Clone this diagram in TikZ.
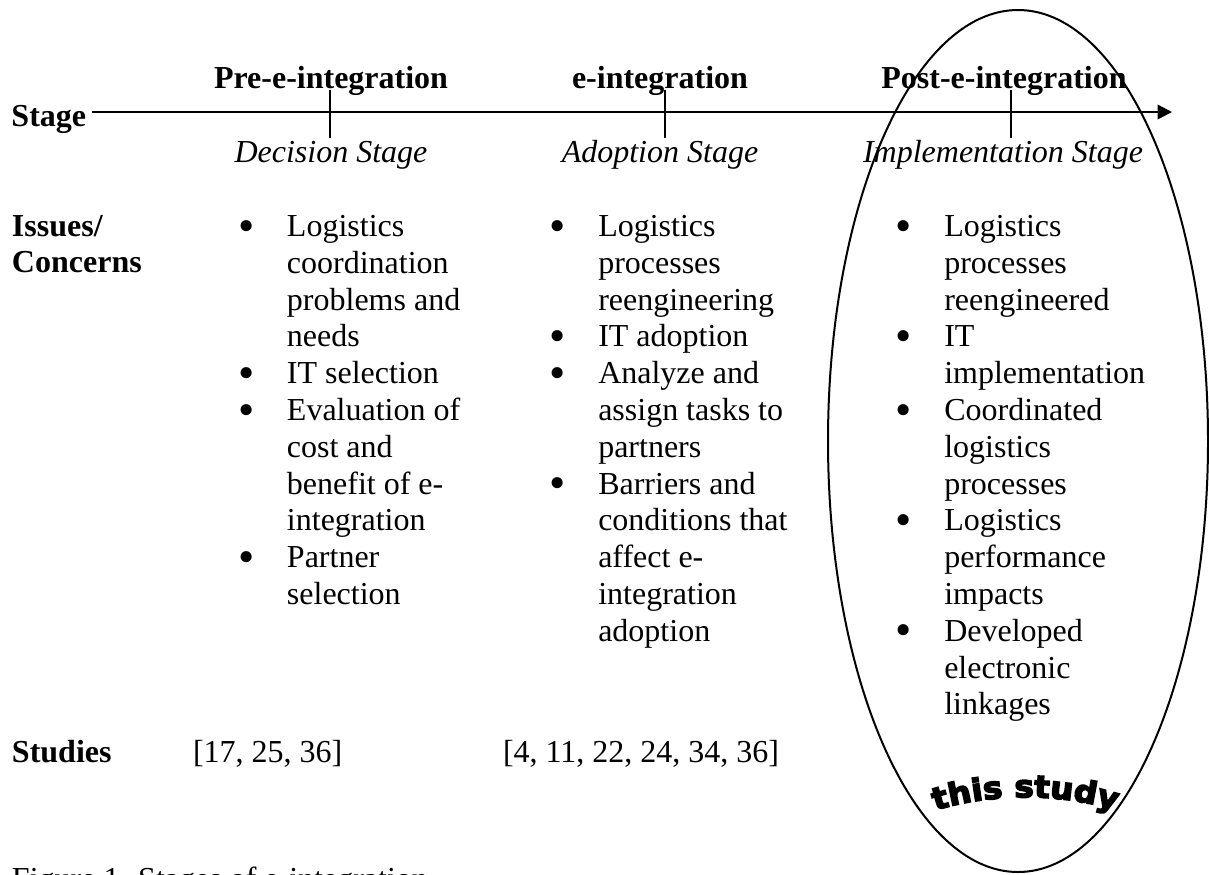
\documentclass[tikz,border=0pt]{standalone}
\usepackage{fontspec}
\usepackage{graphicx}
\setmainfont{Liberation Serif}
\newfontfamily\wordart[FakeStretch=1.06, BoldFeatures={FakeBold=5}, UprightFeatures={FakeBold=5}]{DejaVu Sans}
\usetikzlibrary{arrows.meta,shapes.geometric,decorations.text}
\newcommand\BigDot{\raisebox{-1.7pt}{\scalebox{1.45}{•}}}
\newcommand\Bul[1]{\makebox[17.5pt][l]{\hspace*{-0.8pt}\BigDot}#1}
\newcommand\Cont[1]{\hspace*{17.5pt}#1}
\begin{document}
\begin{tikzpicture}[x=0.375pt,y=-0.375pt,
  every node/.style={inner sep=0pt, outer sep=0pt},
  txt/.style={font=\fontsize{12}{13.8}\selectfont, anchor=base west},
  hdr/.style={font=\fontsize{12}{13.8}\selectfont\bfseries},
  stg/.style={font=\fontsize{12}{13.8}\selectfont\itshape, anchor=base},
  lst/.style={font=\fontsize{12}{13.8}\selectfont, anchor=base west},
  axisline/.style={line width=0.9pt, -{Triangle[length=5.4pt,width=5.4pt]}},
  tickline/.style={line width=0.7pt},
  ring/.style={draw, ellipse, line width=0.75pt, minimum width=142.5pt, minimum height=323.25pt}]
\useasboundingbox (0,0) rectangle (1209,874);
\clip (0,0) rectangle (1209,874);

% axis
\node[hdr, anchor=base west] (stage) at (11.5,126.5) {Stage};
\coordinate (axstart) at (92,112);
\coordinate (axend) at (1172,112);
\draw[axisline] (axstart) -- (axend);

% stage headers
\node[hdr, anchor=base] (pre)  at (331,88)  {Pre-e-integration};
\node[hdr, anchor=base] (ein)  at (660,88)  {e-integration};
\node[hdr, anchor=base] (post) at (1004,88) {Post-e-integration};

\node[stg] (dec) at (331,162)  {Decision Stage};
\node[stg] (ado) at (660,162)  {Adoption Stage};
\node[stg] (imp) at (1003,162) {Implementation Stage};

% ticks
\coordinate (t1a) at (330,90);  \coordinate (t1b) at (330,138);
\coordinate (t2a) at (665,90);  \coordinate (t2b) at (665,138);
\coordinate (t3a) at (1011,90); \coordinate (t3b) at (1011,138);
\draw[tickline] (t1a) -- (t1b);
\draw[tickline] (t2a) -- (t2b);
\draw[tickline] (t3a) -- (t3b);

% row labels
\node[hdr, anchor=base west] (issues) at (12,236) {\begin{tabular}[t]{@{}l@{}}Issues/\\Concerns\end{tabular}};
\node[hdr, anchor=base west] (studies) at (12,762) {Studies};

% lists
\node[lst] (list1) at (240.3,236.5) {\begin{tabular}[t]{@{}l@{}}
\Bul{Logistics}\\ \Cont{coordination}\\ \Cont{problems and}\\ \Cont{needs}\\
\Bul{IT selection}\\
\Bul{Evaluation of}\\ \Cont{cost and}\\ \Cont{benefit of e-}\\ \Cont{integration}\\
\Bul{Partner}\\ \Cont{selection}
\end{tabular}};

\node[lst] (list2) at (551.6,236.5) {\begin{tabular}[t]{@{}l@{}}
\Bul{Logistics}\\ \Cont{processes}\\ \Cont{reengineering}\\
\Bul{IT adoption}\\
\Bul{Analyze and}\\ \Cont{assign tasks to}\\ \Cont{partners}\\
\Bul{Barriers and}\\ \Cont{conditions that}\\ \Cont{affect e-}\\ \Cont{integration}\\ \Cont{adoption}
\end{tabular}};

\node[lst] (list3) at (897.6,236.5) {\begin{tabular}[t]{@{}l@{}}
\Bul{Logistics}\\ \Cont{processes}\\ \Cont{reengineered}\\
\Bul{IT}\\ \Cont{implementation}\\
\Bul{Coordinated}\\ \Cont{logistics}\\ \Cont{processes}\\
\Bul{Logistics}\\ \Cont{performance}\\ \Cont{impacts}\\
\Bul{Developed}\\ \Cont{electronic}\\ \Cont{linkages}
\end{tabular}};

% studies
\node[txt] (refs1) at (193,762) {[17, 25, 36]};
\node[txt] (refs2) at (503,762) {[4, 11, 22, 24, 34, 36]};

% focus ellipse
\node[ring] (focus) at (1018,441) {};

% this study (arched)
\coordinate (ts1) at (928,813);
\coordinate (ts2) at (1123,813);
\path[decorate, decoration={text along path, text align=center,
  text={|\wordart\bfseries\fontsize{11.5}{12}\selectfont|this study}}]
  (ts1) .. controls (987,792) and (1064,792) .. (ts2);

% caption
\node[txt] (caption) at (12,889) {Figure 1. Stages of e-integration};
\end{tikzpicture}
\end{document}
